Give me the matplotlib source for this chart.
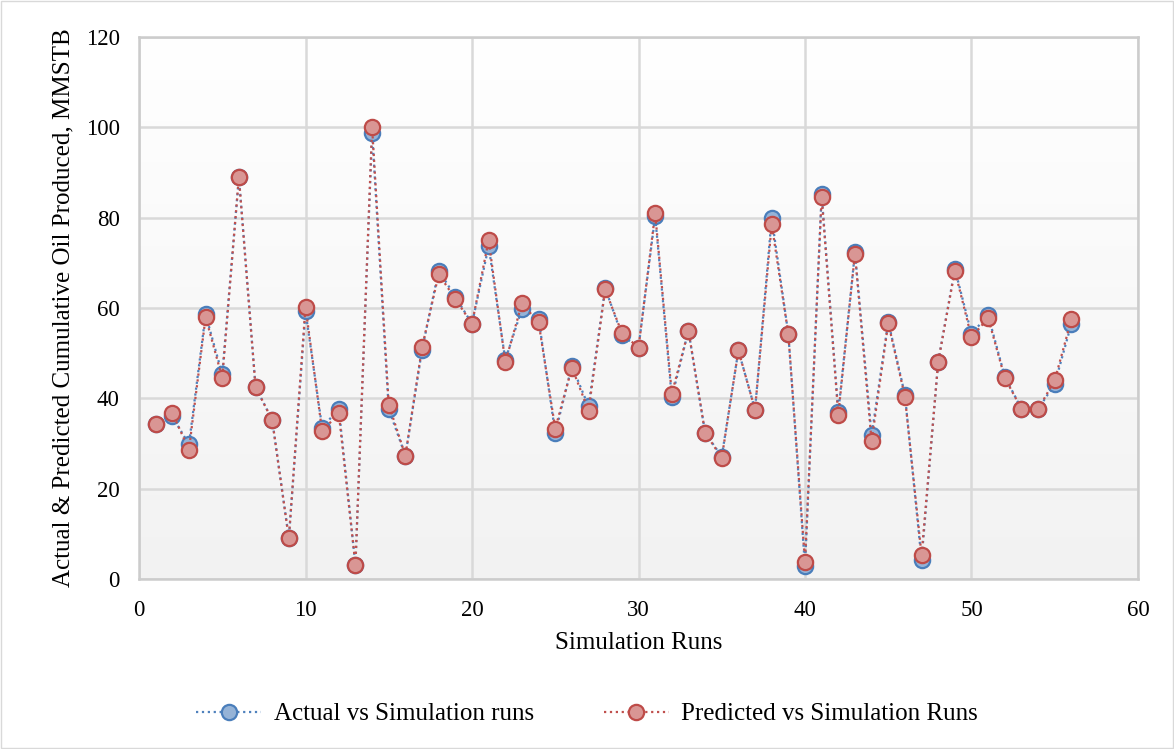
import matplotlib
matplotlib.use("Agg")
import matplotlib.pyplot as plt
import numpy as np
from matplotlib.patches import Rectangle
from matplotlib.colors import LinearSegmentedColormap

runs = list(range(1, 57))
actual = [34.3, 36.0, 29.8, 58.6, 45.3, 89.0, 42.5, 35.2, 9.0, 59.3,
          33.5, 37.7, 3.1, 98.8, 37.6, 27.3, 50.8, 68.3, 62.5, 56.5,
          73.7, 48.5, 59.8, 57.6, 32.3, 47.2, 38.2, 64.4, 54.0, 51.2,
          80.3, 40.2, 55.0, 32.4, 27.1, 50.6, 37.5, 80.0, 54.2, 2.8,
          85.2, 36.9, 72.3, 31.8, 57.0, 40.8, 4.2, 48.1, 68.7, 54.3,
          58.4, 44.8, 37.7, 37.6, 43.2, 56.5]
predicted = [34.3, 36.8, 28.6, 58.0, 44.5, 89.0, 42.5, 35.2, 9.0, 60.3,
             32.7, 36.7, 3.2, 100.0, 38.6, 27.3, 51.3, 67.5, 62.0, 56.5,
             75.0, 48.0, 61.0, 56.8, 33.3, 46.8, 37.3, 64.1, 54.5, 51.2,
             81.0, 41.0, 55.0, 32.4, 26.8, 50.6, 37.5, 78.5, 54.2, 3.8,
             84.6, 36.4, 72.0, 30.5, 56.7, 40.4, 5.3, 48.1, 68.3, 53.5,
             57.8, 44.5, 37.7, 37.6, 44.0, 57.5]
x_ticks = [0, 10, 20, 30, 40, 50, 60]
y_ticks = [0, 20, 40, 60, 80, 100, 120]

plt.rcParams['font.family'] = ['Liberation Serif', 'DejaVu Serif']

W, H = 1174, 749
fig = plt.figure(figsize=(W / 100, H / 100), dpi=100)
fig.patches.append(Rectangle((0.001, 0.001), 0.998, 0.997, transform=fig.transFigure,
                             fill=False, edgecolor='#d9d9d9', linewidth=1.0))

ax = fig.add_axes([139 / W, 1 - 579 / H, (1138 - 139) / W, (579 - 37) / H])
ax.set_xlim(0, 60)
ax.set_ylim(0, 120)

# gradient background
grad = np.linspace(0, 1, 256).reshape(-1, 1)
cmap = LinearSegmentedColormap.from_list('bg', ['#f2f2f2', '#ffffff'])
ax.imshow(grad, extent=[0, 60, 0, 120], aspect='auto', cmap=cmap,
          origin='lower', zorder=0)

ax.set_xticks(x_ticks)
ax.set_yticks(y_ticks)
ax.grid(True, color='#d9d9d9', linewidth=1.8, zorder=1)
ax.set_axisbelow(True)
for s in ax.spines.values():
    s.set_color('#cccccc')
    s.set_linewidth(1.8)
ax.tick_params(length=0, labelsize=16.5, colors='black')
ax.tick_params(axis='x', pad=15)
ax.tick_params(axis='y', pad=14)

ax.plot(runs, actual, linestyle=':', color='#4f81bd', linewidth=1.6,
        marker='o', markersize=11, markerfacecolor='#95b3d7',
        markeredgecolor='#4a7ebb', markeredgewidth=1.6, zorder=3,
        label='Actual vs Simulation runs')
ax.plot(runs, predicted, linestyle=':', color='#c0504d', linewidth=1.6,
        marker='o', markersize=11, markerfacecolor='#d99694',
        markeredgecolor='#be4b48', markeredgewidth=1.6, zorder=4,
        label='Predicted vs Simulation Runs')

ax.set_xlabel('Simulation Runs', fontsize=18, labelpad=8)
ax.set_ylabel('Actual & Predicted Cumulative Oil Produced, MMSTB', fontsize=18, labelpad=8)

fig.legend(loc='center', bbox_to_anchor=(0.5, 1 - 714 / H), ncol=2, frameon=False,
           fontsize=18, handlelength=2.6, columnspacing=2.8, handletextpad=0.5)

fig.savefig('out.png', dpi=100)
